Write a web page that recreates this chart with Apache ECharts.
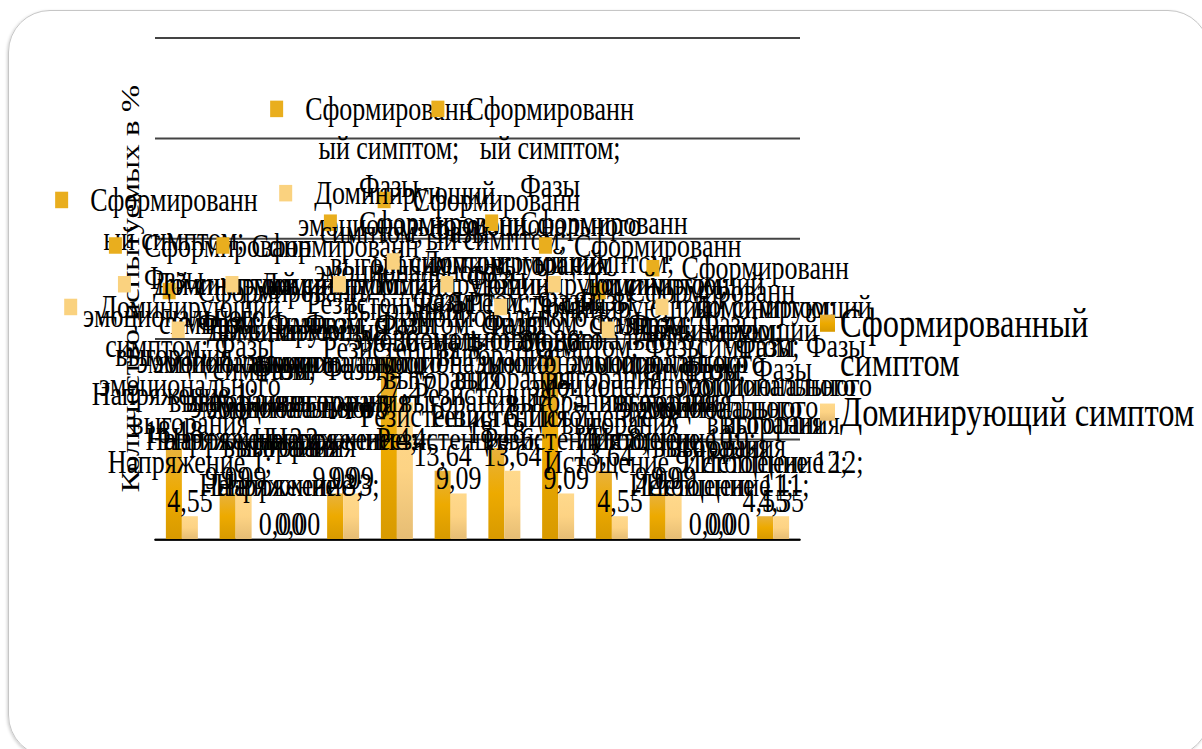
<!DOCTYPE html>
<html>
<head>
<meta charset="utf-8">
<script src="https://cdn.jsdelivr.net/npm/echarts@6/dist/echarts.min.js"></script>
<style>
html,body{margin:0;padding:0;background:#fff;overflow:hidden;width:1202px;height:749px;}
#frame{position:absolute;left:8px;top:10px;width:1200px;height:745px;border:1.5px solid #c6c6c6;border-radius:42px;box-shadow:-1px 1px 3px rgba(0,0,0,0.18);}
#wrap{position:absolute;left:0;top:0;width:1202px;height:590px;transform:scaleY(1.27);transform-origin:0 0;}
#chart{width:1202px;height:590px;}
</style>
</head>
<body>
<div id="frame"></div>
<div id="wrap"><div id="chart"></div></div>
<script>
const categories = [
  'Напряжение 1', 'Напряжение 2', 'Напряжение 3', 'Напряжение 4',
  'Резистенция 5', 'Резистенция 6', 'Резистенция 7', 'Резистенция 8',
  'Истощение 9', 'Истощение 10', 'Истощение 11', 'Истощение 12'
];
const formedValues   = [18.18, 9.09, 0, 9.09, 36.36, 13.64, 18.18, 36.36, 13.64, 9.09, 0, 4.55];
const dominantValues = [4.55, 9.09, 0, 9.09, 27.27, 9.09, 13.64, 9.09, 4.55, 9.09, 0, 4.55];
const seriesNames = ['Сформированный симптом', 'Доминирующий симптом'];
const categoryTitle = 'Фазы эмоционального выгорания';
const valueTitle = 'Количество испытуемых в %';
const yTicks = [0, 20, 40, 60, 80, 100];

const FONT = 'Liberation Serif';
const FONT_SIZE = 26;
const LEGEND_FONT_SIZE = 32.5;
const LINE_H = 30.5;
const LEGEND_LINE_H = 31;
const LABEL_WIDTH = 199.5;
const FIRST_LINE_WIDTH = 183;
const LEGEND_WIDTH = 360;
const MARK_W = 13, MARK_GAP = 22;

const darkGrad = new echarts.graphic.LinearGradient(0, 0, 0, 1, [
  {offset: 0, color: '#E8B23E'}, {offset: 0.5, color: '#EDAA00'}, {offset: 1, color: '#D89A00'}
]);
const lightGrad = new echarts.graphic.LinearGradient(0, 0, 0, 1, [
  {offset: 0, color: '#FFD98C'}, {offset: 0.5, color: '#FDD384'}, {offset: 1, color: '#E6BD74'}
]);

// text measuring for word wrap (marker hangs left of first line)
const mctx = document.createElement('canvas').getContext('2d');
function tw(s, size) { mctx.font = size + 'px "' + FONT + '"'; return mctx.measureText(s).width; }

function wrapWords(text, firstLimit, limit, size) {
  const words = text.split(' ');
  const lines = [];
  let line = '';
  let lim = firstLimit;
  function startWith(word) {
    while (tw(word, size) > lim && word.length > 1) {
      let k = 1;
      while (k < word.length - 1 && tw(word.slice(0, k + 1), size) <= lim) k++;
      lines.push(word.slice(0, k));
      word = word.slice(k);
      lim = limit;
    }
    line = word;
  }
  words.forEach(w => {
    if (line === '') {
      startWith(w);
    } else if (tw(line + ' ' + w, size) <= lim) {
      line += ' ' + w;
    } else {
      lines.push(line);
      lim = limit;
      line = '';
      startWith(w);
    }
  });
  if (line) lines.push(line);
  return lines;
}

function fmt(v) { return v.toFixed(2).replace('.', ','); }

function labelText(p) {
  const raw = p.seriesName + '; ' + categoryTitle + ' ' + p.name + '; ' + fmt(p.value);
  const lines = wrapWords(raw, FIRST_LINE_WIDTH, LABEL_WIDTH, FONT_SIZE);
  const first = '{m|}{g|}' + lines[0] + '{g|}{h|}';
  return [first].concat(lines.slice(1)).join('\n');
}

function legendText(name) {
  const lines = wrapWords(name, LEGEND_WIDTH, LEGEND_WIDTH, LEGEND_FONT_SIZE);
  // keep the marker level with the first line: add an empty line above
  return lines.length > 1 ? '{e|}\n' + lines.join('\n') : name;
}

function makeLabel(markColor) {
  return {
    show: true,
    position: 'top',
    distance: -3,
    align: 'center',
    fontFamily: FONT,
    fontSize: FONT_SIZE,
    lineHeight: LINE_H,
    color: '#000',
    formatter: labelText,
    rich: {
      m: {width: MARK_W, height: MARK_W, backgroundColor: markColor},
      g: {width: MARK_GAP},
      h: {width: MARK_W}
    }
  };
}

const chart = echarts.init(document.getElementById('chart'), null, {renderer: 'svg'});
chart.setOption({
  animation: false,
  backgroundColor: 'transparent',
  grid: {left: 155, right: 402, top: 30, bottom: 165.6, containLabel: false},
  legend: {
    orient: 'vertical',
    left: 815,
    top: 202,
    itemWidth: 15,
    itemHeight: 13.5,
    itemGap: 6,
    itemStyle: {borderWidth: 0},
    icon: 'rect',
    formatter: legendText,
    textStyle: {
      fontFamily: FONT, fontSize: LEGEND_FONT_SIZE, lineHeight: LEGEND_LINE_H, color: '#000',
      rich: {e: {height: LEGEND_LINE_H, lineHeight: LEGEND_LINE_H}}
    },
    data: seriesNames
  },
  xAxis: {
    type: 'category',
    data: categories,
    axisLine: {show: true, lineStyle: {color: '#000', width: 1.6}},
    axisTick: {show: false},
    axisLabel: {show: false},
    splitLine: {show: false}
  },
  yAxis: {
    type: 'value',
    min: yTicks[0],
    max: yTicks[yTicks.length - 1],
    interval: yTicks[1] - yTicks[0],
    name: valueTitle,
    nameLocation: 'middle',
    nameRotate: 90,
    nameGap: 12,
    nameTextStyle: {fontFamily: FONT, fontSize: FONT_SIZE, color: '#000'},
    axisLine: {show: false},
    axisTick: {show: false},
    axisLabel: {show: false},
    splitLine: {show: true, lineStyle: {color: '#444', width: 1.6}}
  },
  series: [
    {
      name: seriesNames[0],
      type: 'bar',
      data: formedValues,
      barWidth: 16,
      barGap: '0%',
      itemStyle: {color: darkGrad},
      label: makeLabel('#E9AE1E')
    },
    {
      name: seriesNames[1],
      type: 'bar',
      data: dominantValues,
      barWidth: 16,
      barGap: '0%',
      itemStyle: {color: lightGrad},
      label: makeLabel('#FAD27F')
    }
  ]
});
</script>
</body>
</html>
